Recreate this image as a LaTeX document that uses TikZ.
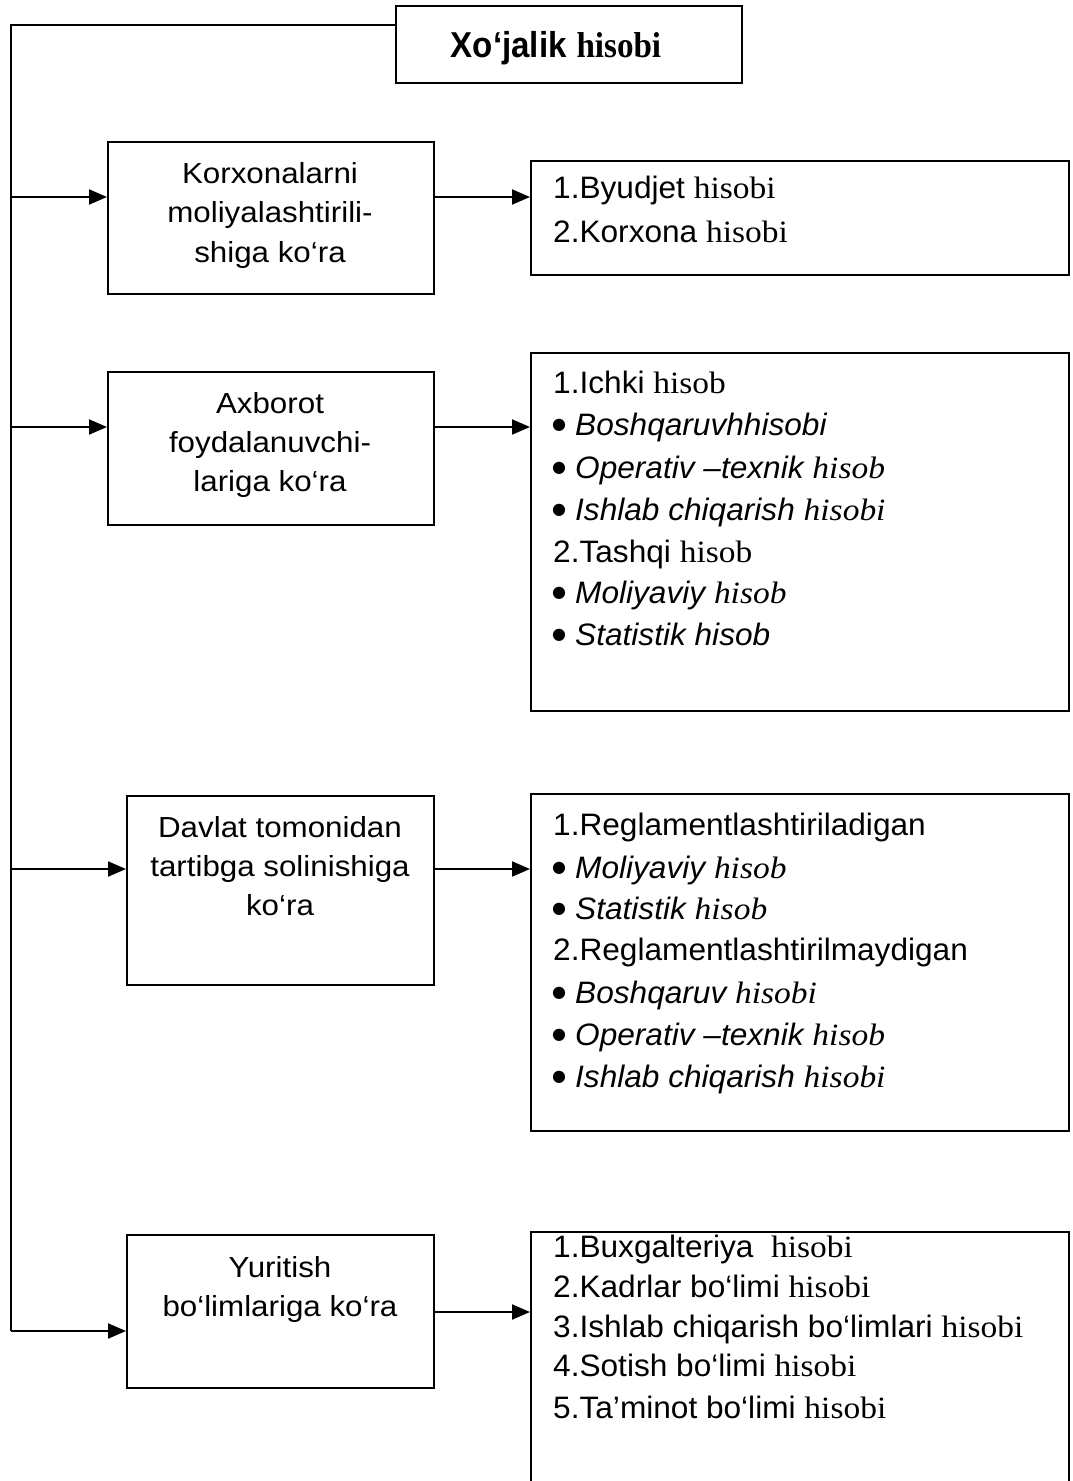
\documentclass[tikz,border=0pt]{standalone}
\usepackage{fontspec}
\setmainfont{Liberation Serif}[FakeStretch=1.08]
\newfontfamily\sansf{Liberation Sans}[FakeStretch=1.02]
\newfontfamily\sansl{Liberation Sans}[FakeStretch=1.08]
\newfontfamily\titsans{Liberation Sans}[FakeStretch=0.92]
\newfontfamily\titser{Liberation Serif}[FakeStretch=0.92]
\newfontfamily\dejav{DejaVu Sans}
\usetikzlibrary{arrows.meta}
\newcommand\tms[1]{{\rmfamily #1}}
\newcommand\mkl[3]{\node[rline] (#1) at (553,#2) {#3};}
\newcommand\mkb[3]{\node[bul] (#1b) at (559,#2-10) {●};\node[rline] (#1) at (575,#2) {#3};}
\tikzset{
  frame/.style={draw, line width=2pt, rectangle, inner sep=0pt, anchor=north west},
  plain/.style={line width=2pt},
  conn/.style={line width=2pt, -{Triangle[length=18pt,width=15pt]}},
  rline/.style={anchor=base west, inner sep=0pt, font=\sansf\fontsize{31}{36}\selectfont},
  lline/.style={anchor=base, inner sep=0pt, font=\sansl\fontsize{29}{35}\selectfont},
  bul/.style={anchor=center, inner sep=0pt, font=\dejav\fontsize{16}{20}\selectfont},
}
\begin{document}
\begin{tikzpicture}[x=1pt,y=-1pt]
\useasboundingbox (0,0) rectangle (1073,1481);
\clip (0,0) rectangle (1073,1481);
% boxes
\node[frame, minimum width=346pt, minimum height=77pt] (title) at (395,5) {};
\node[anchor=base, inner sep=0pt, font=\bfseries\fontsize{36}{40}\selectfont] (tt) at (556,57) {{\titsans Xo‘jalik} {\titser hisobi}};
\node[frame, minimum width=326pt, minimum height=152pt] (b1) at (107,141) {};
\node[frame, minimum width=326pt, minimum height=153pt] (b2) at (107,371) {};
\node[frame, minimum width=307pt, minimum height=189pt] (b3) at (126,795) {};
\node[frame, minimum width=307pt, minimum height=153pt] (b4) at (126,1234) {};
\node[frame, minimum width=538pt, minimum height=114pt] (r1) at (530,160) {};
\node[frame, minimum width=538pt, minimum height=358pt] (r2) at (530,352) {};
\node[frame, minimum width=538pt, minimum height=337pt] (r3) at (530,793) {};
\node[frame, minimum width=538pt, minimum height=320pt] (r4) at (530,1231) {};
% left texts
\node[lline] (l1a) at (270,183) {Korxonalarni};
\node[lline] (l1b) at (270,222) {moliyalashtirili-};
\node[lline] (l1c) at (270,262) {shiga ko‘ra};
\node[lline] (l2a) at (270,413) {Axborot};
\node[lline] (l2b) at (270,452) {foydalanuvchi-};
\node[lline] (l2c) at (270,491) {lariga ko‘ra};
\node[lline] (l3a) at (280,837) {Davlat tomonidan};
\node[lline] (l3b) at (280,876) {tartibga solinishiga};
\node[lline] (l3c) at (280,915) {ko‘ra};
\node[lline] (l4a) at (280,1277) {Yuritish};
\node[lline] (l4b) at (280,1316) {bo‘limlariga ko‘ra};
% right texts
\mkl{p1a}{198}{1.Byudjet \tms{hisobi}}
\mkl{p1b}{242}{2.Korxona \tms{hisobi}}
\mkl{p2a}{393}{1.Ichki \tms{hisob}}
\mkb{p2b}{435}{\itshape Boshqaruvhhisobi}
\mkb{p2c}{478}{\itshape Operativ –texnik \tms{hisob}}
\mkb{p2d}{520}{\itshape Ishlab chiqarish \tms{hisobi}}
\mkl{p2e}{562}{2.Tashqi \tms{hisob}}
\mkb{p2f}{603}{\itshape Moliyaviy \tms{hisob}}
\mkb{p2g}{645}{\itshape Statistik hisob}
\mkl{p3a}{835}{1.Reglamentlashtiriladigan}
\mkb{p3b}{878}{\itshape Moliyaviy \tms{hisob}}
\mkb{p3c}{919}{\itshape Statistik \tms{hisob}}
\mkl{p3d}{960}{2.Reglamentlashtirilmaydigan}
\mkb{p3e}{1003}{\itshape Boshqaruv \tms{hisobi}}
\mkb{p3f}{1045}{\itshape Operativ –texnik \tms{hisob}}
\mkb{p3g}{1087}{\itshape Ishlab chiqarish \tms{hisobi}}
\mkl{p4a}{1257}{1.Buxgalteriya\ \ \tms{hisobi}}
\mkl{p4b}{1297}{2.Kadrlar bo‘limi \tms{hisobi}}
\mkl{p4c}{1337}{3.Ishlab chiqarish bo‘limlari \tms{hisobi}}
\mkl{p4d}{1376}{4.Sotish bo‘limi \tms{hisobi}}
\mkl{p4e}{1418}{5.Ta’minot bo‘limi \tms{hisobi}}
% connectors
\coordinate (tl) at (11,25);
\coordinate (bl) at (11,1331);
\coordinate (y1) at (0,197);
\coordinate (y2) at (0,427);
\coordinate (y3) at (0,869);
\coordinate (y4) at (0,1312);
\draw[plain] (title.west |- tl) -- (tl) -- (bl);
\draw[conn] (tl |- y1) -- (b1.west |- y1);
\draw[conn] (tl |- y2) -- (b2.west |- y2);
\draw[conn] (tl |- y3) -- (b3.west |- y3);
\draw[conn] (bl) -- (b4.west |- bl);
\draw[conn] (b1.east |- y1) -- (r1.west |- y1);
\draw[conn] (b2.east |- y2) -- (r2.west |- y2);
\draw[conn] (b3.east |- y3) -- (r3.west |- y3);
\draw[conn] (b4.east |- y4) -- (r4.west |- y4);
\end{tikzpicture}
\end{document}
